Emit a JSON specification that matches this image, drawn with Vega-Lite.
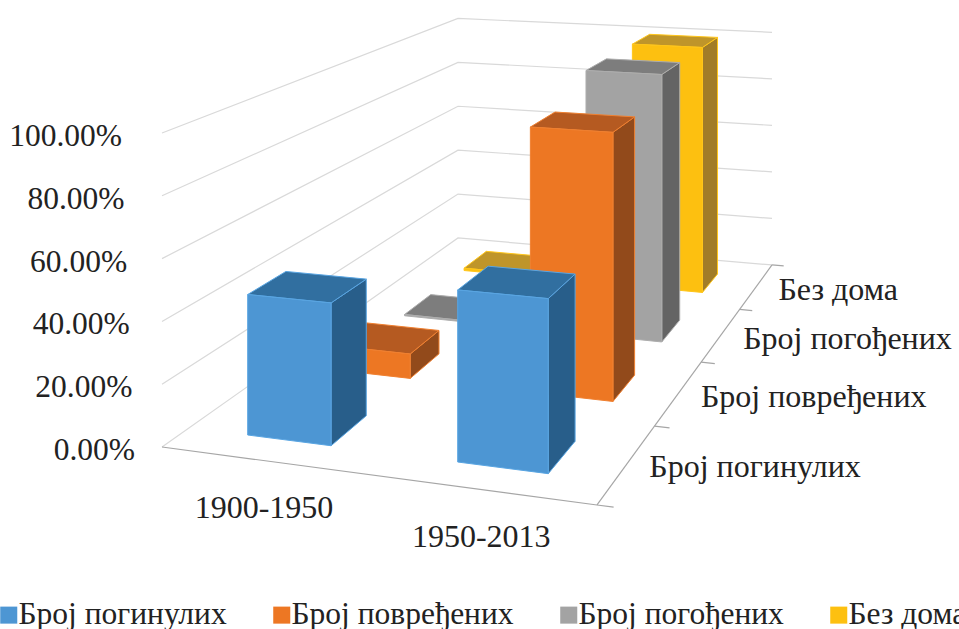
{"$schema":"https://vega.github.io/schema/vega-lite/v6.json","width":959,"height":629,"padding":0,"autosize":"none","background":"white","config":{"view":{"stroke":null},"text":{"font":"Liberation Serif","color":"#222222"}},
"encoding":{"x":{"field":"sx","type":"quantitative","scale":{"domain":[0,959],"nice":false,"zero":false},"axis":null},"y":{"field":"sy","type":"quantitative","scale":{"domain":[629,0],"nice":false,"zero":false},"axis":null}},
"layer":[
{"data":{"values":[{"tick":0},{"tick":20},{"tick":40},{"tick":60},{"tick":80},{"tick":100}]},
"transform":[{"calculate":"[{i:0,X:0,D:0},{i:1,X:0,D:1},{i:2,X:1,D:1}]","as":"v"},{"flatten":["v"]},{"calculate":"1-0.08075*datum.v.X+0.43036*datum.v.D","as":"W"},{"calculate":"(386.8*datum.v.X+493.1*datum.v.D+162)/datum.W","as":"sx"},{"calculate":"(17.2*datum.v.X-106.6*datum.v.D+447-3.14*datum.tick)/datum.W","as":"sy"}],
"mark":{"type":"line","color":"#d9d9d9","strokeWidth":1.2},
"encoding":{"detail":{"field":"tick"},"order":{"field":"v.i"}}},
{"data":{"values":[{"edge":"front"},{"edge":"right"},{"edge":"t0"},{"edge":"t1"},{"edge":"t2"},{"edge":"t3"},{"edge":"t4"}]},
"transform":[{"calculate":"datum.edge=='front'?[{i:0,X:0,D:0},{i:1,X:1,D:0}]:datum.edge=='right'?[{i:0,X:1,D:0},{i:1,X:1,D:1}]:[{i:0,X:1,D:0.25*toNumber(substring(datum.edge,1))},{i:1,X:1.035,D:0.25*toNumber(substring(datum.edge,1))}]","as":"v"},{"flatten":["v"]},{"calculate":"1-0.08075*datum.v.X+0.43036*datum.v.D","as":"W"},{"calculate":"(386.8*datum.v.X+493.1*datum.v.D+162)/datum.W","as":"sx"},{"calculate":"(17.2*datum.v.X-106.6*datum.v.D+447)/datum.W","as":"sy"}],
"mark":{"type":"line","color":"#a6a6a6","strokeWidth":1.2},
"encoding":{"detail":{"field":"edge"},"order":{"field":"v.i"}}},
{"data":{"values":[
{"period":"1900-1950","category":"Без дома","value":1},
{"period":"1950-2013","category":"Без дома","value":100},
{"period":"1900-1950","category":"Број погођених","value":0.5},
{"period":"1950-2013","category":"Број погођених","value":100},
{"period":"1900-1950","category":"Број повређених","value":8.6},
{"period":"1950-2013","category":"Број повређених","value":91.4},
{"period":"1900-1950","category":"Број погинулих","value":45.5},
{"period":"1950-2013","category":"Број погинулих","value":53.5}]},
"transform":[
{"calculate":"indexof(['Број погинулих','Број повређених','Број погођених','Без дома'],datum.category)","as":"d"},
{"calculate":"0.147+indexof(['1900-1950','1950-2013'],datum.period)*(datum.d>0?0.515:0.504)","as":"X0"},
{"calculate":"datum.X0+0.205","as":"X1"},
{"calculate":"0.067+0.25*datum.d","as":"D0"},
{"calculate":"datum.D0+0.105","as":"D1"},
{"calculate":"[{f:'side',i:0,X:datum.X1,D:datum.D0,V:0},{f:'side',i:1,X:datum.X1,D:datum.D1,V:0},{f:'side',i:2,X:datum.X1,D:datum.D1,V:datum.value},{f:'side',i:3,X:datum.X1,D:datum.D0,V:datum.value},{f:'top',i:0,X:datum.X0,D:datum.D0,V:datum.value},{f:'top',i:1,X:datum.X1,D:datum.D0,V:datum.value},{f:'top',i:2,X:datum.X1,D:datum.D1,V:datum.value},{f:'top',i:3,X:datum.X0,D:datum.D1,V:datum.value},{f:'front',i:0,X:datum.X0,D:datum.D0,V:0},{f:'front',i:1,X:datum.X1,D:datum.D0,V:0},{f:'front',i:2,X:datum.X1,D:datum.D0,V:datum.value},{f:'front',i:3,X:datum.X0,D:datum.D0,V:datum.value}]","as":"v"},
{"flatten":["v"]},
{"calculate":"1-0.08075*datum.v.X+0.43036*datum.v.D","as":"W"},
{"calculate":"(386.8*datum.v.X+493.1*datum.v.D+162)/datum.W","as":"sx"},
{"calculate":"(17.2*datum.v.X-106.6*datum.v.D+447-3.14*datum.v.V)/datum.W","as":"sy"},
{"calculate":"datum.category+'|'+datum.v.f","as":"ck"},
{"calculate":"datum.period+'|'+datum.ck","as":"poly"}],
"mark":{"type":"line","filled":true,"interpolate":"linear-closed","strokeWidth":1},
"encoding":{"detail":{"field":"poly"},"order":{"field":"v.i"},
"stroke":{"field":"category","type":"nominal","scale":{"domain":["Број погинулих","Број повређених","Број погођених","Без дома"],"range":["#59a5e2","#f08030","#adadad","#ffc61a"]},"legend":null},
"color":{"field":"ck","type":"nominal","scale":{"domain":["Број погинулих|front","Број повређених|front","Број погођених|front","Без дома|front","Број погинулих|top","Број повређених|top","Број погођених|top","Без дома|top","Број погинулих|side","Број повређених|side","Број погођених|side","Без дома|side"],"range":["#4d96d3","#ed7723","#a3a3a3","#fdc010","#316fa0","#b55a21","#7d7d7d","#bf952a","#285e8a","#924a1b","#646464","#a17c28"]},
"legend":{"values":["Број погинулих|front","Број повређених|front","Број погођених|front","Без дома|front"],"labelExpr":"split(datum.label,'|')[0]","title":null,"orient":"none","legendX":-7,"legendY":599,"padding":0,"direction":"horizontal","columns":4,"symbolType":"square","symbolSize":290,"symbolStrokeWidth":0,"labelFont":"Liberation Serif","labelFontSize":31.5,"labelColor":"#222222","labelOffset":-6,"columnPadding":39,"labelLimit":400}}}},
{"data":{"values":[{"tick":0},{"tick":20},{"tick":40},{"tick":60},{"tick":80},{"tick":100}]},
"transform":[{"calculate":"135-0.13*datum.tick","as":"sx"},{"calculate":"(447-3.14*datum.tick)+4","as":"sy"},{"calculate":"format(datum.tick,'.2f')+'%'","as":"label"}],
"mark":{"type":"text","align":"right","baseline":"middle","fontSize":31.5},
"encoding":{"text":{"field":"label"}}},
{"data":{"values":[{"period":"1900-1950"},{"period":"1950-2013"}]},
"transform":[{"calculate":"0.25+0.5*indexof(['1900-1950','1950-2013'],datum.period)","as":"X"},{"calculate":"1-0.08075*datum.X","as":"W"},{"calculate":"(386.8*datum.X+162)/datum.W","as":"sx"},{"calculate":"(17.2*datum.X+447)/datum.W","as":"sy"}],
"mark":{"type":"text","align":"center","baseline":"middle","fontSize":32,"dy":47},
"encoding":{"text":{"field":"period"}}},
{"data":{"values":[{"category":"Број погинулих"},{"category":"Број повређених"},{"category":"Број погођених"},{"category":"Без дома"}]},
"transform":[{"calculate":"0.125+0.25*indexof(['Број погинулих','Број повређених','Број погођених','Без дома'],datum.category)","as":"D"},{"calculate":"0.91925+0.43036*datum.D","as":"W"},{"calculate":"(386.8+493.1*datum.D+162)/datum.W","as":"sx"},{"calculate":"(17.2-106.6*datum.D+447)/datum.W","as":"sy"}],
"mark":{"type":"text","align":"left","baseline":"middle","fontSize":32,"dx":22,"dy":4},
"encoding":{"text":{"field":"category"}}}
]}
